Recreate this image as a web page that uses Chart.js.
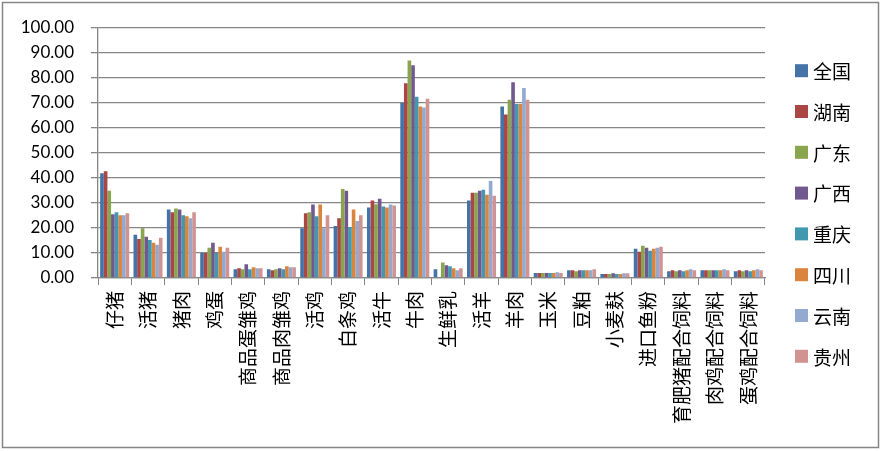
<!DOCTYPE html>
<html>
<head>
<meta charset="utf-8">
<script src="https://cdn.jsdelivr.net/npm/chart.js@4.4.1/dist/chart.umd.min.js"></script>
<style>
html,body{margin:0;padding:0;background:#fff;}
#wrap{width:881px;height:451px;position:relative;}
</style>
</head>
<body>
<div id="wrap"><canvas id="myChart"></canvas></div>
<script>
// categories and one array per region
const categories = ['仔猪','活猪','猪肉','鸡蛋','商品蛋雏鸡','商品肉雏鸡','活鸡','白条鸡','活牛','牛肉','生鲜乳','活羊','羊肉','玉米','豆粕','小麦麸','进口鱼粉','育肥猪配合饲料','肉鸡配合饲料','蛋鸡配合饲料'];
const regions = ['全国','湖南','广东','广西','重庆','四川','云南','贵州'];
const quanguo   = [41.8,17.2,27.3,10.0,3.5,3.5,19.8,20.7,28.1,69.8,3.5,30.9,68.4,2.0,3.1,1.6,11.7,2.7,3.1,2.7];
const hunan     = [42.6,15.6,26.2,10.0,3.9,3.1,25.8,23.8,30.9,77.7,0,34.0,65.2,2.0,3.1,1.6,10.5,3.1,3.1,3.1];
const guangdong = [34.8,19.8,27.7,12.1,3.5,3.5,26.2,35.5,29.4,86.7,6.2,34.0,71.1,2.0,2.7,1.6,12.9,2.7,3.1,2.7];
const guangxi   = [25.4,16.4,27.3,14.1,5.5,3.9,29.3,34.8,31.6,84.8,5.1,34.8,78.1,2.0,3.1,1.9,12.1,3.1,3.1,3.1];
const chongqing = [26.2,15.2,25.0,10.0,3.5,3.5,24.6,20.3,28.5,72.3,4.7,35.2,69.4,2.0,3.1,1.6,10.9,2.7,3.1,2.7];
const sichuan   = [25.0,14.1,24.6,12.5,4.3,4.7,29.3,27.3,28.1,68.4,3.9,33.2,69.4,2.0,3.1,1.6,11.7,3.1,3.1,3.1];
const yunnan    = [25.0,13.3,23.8,10.5,3.9,4.3,19.8,22.7,29.3,68.0,3.1,38.7,75.8,2.3,3.1,1.9,12.1,3.5,3.5,3.5];
const guizhou   = [25.8,16.0,26.2,12.1,3.9,4.3,25.0,25.0,28.9,71.5,3.9,32.8,71.1,2.0,3.5,1.9,12.5,3.1,3.1,3.1];
const yTicks = [0,10,20,30,40,50,60,70,80,90,100];

const seriesValues = [quanguo,hunan,guangdong,guangxi,chongqing,sichuan,yunnan,guizhou];
const colors = ['#4572A7','#AA4643','#89A54E','#71588F','#4198AF','#DB843D','#93A9CF','#D19392'];
const gridColor = '#868686';

// legend drawn on the right like the spreadsheet one
const sideLegend = {
  id: 'sideLegend',
  afterDraw(chart) {
    const c = chart.ctx;
    c.save();
    c.font = '19px "Noto Sans CJK SC"';
    c.textBaseline = 'middle';
    chart.data.datasets.forEach((ds, i) => {
      const y = 70.7 + i * 40.8;
      c.fillStyle = ds.backgroundColor;
      c.fillRect(795, y - 6.5, 13, 13);
      c.fillStyle = '#000';
      c.fillText(ds.label, 813, y + 1);
    });
    c.restore();
  }
};

const frame = {
  id: 'frame',
  afterDraw(chart) {
    const c = chart.ctx;
    c.save();
    c.strokeStyle = gridColor;
    c.lineWidth = 1.5;
    c.strokeRect(2.5, 2.5, 876, 445);
    c.restore();
  }
};

const config = {
  type: 'bar',
  data: {
    labels: categories,
    datasets: regions.map((r, i) => ({
      label: r,
      data: seriesValues[i],
      backgroundColor: colors[i],
      borderWidth: 0,
      barPercentage: 1,
      categoryPercentage: 0.87
    }))
  },
  options: {
    responsive: true,
    maintainAspectRatio: false,
    animation: false,
    layout: { padding: { top: 24, right: 116, left: 0, bottom: 0 } },
    plugins: {
      legend: { display: false },
      tooltip: { enabled: false }
    },
    scales: {
      x: {
        offset: true,
        grid: { offset: true, drawOnChartArea: false, drawTicks: true, tickLength: 7, color: gridColor },
        border: { color: gridColor, width: 1.3 },
        ticks: {
          autoSkip: false, maxRotation: 90, minRotation: 90, padding: 6, color: '#000',
          font: { family: '"Noto Sans CJK SC"', size: 19 }
        },
        afterFit(s) { s.height = 173; }
      },
      y: {
        min: 0,
        max: 100,
        afterBuildTicks(s) { s.ticks = yTicks.map(v => ({ value: v })); },
        grid: { color: gridColor, lineWidth: 1.3, tickLength: 7 },
        border: { color: gridColor, width: 1.3 },
        ticks: {
          padding: 17, color: '#000',
          font: { family: 'Lato', size: 17 },
          callback: function(value) { return value.toFixed(2); }
        },
        afterFit(s) { s.width = 98; }
      }
    }
  },
  plugins: [sideLegend, frame]
};

const ctx = document.getElementById('myChart').getContext('2d');
new Chart(ctx, config);
</script>
</body>
</html>
